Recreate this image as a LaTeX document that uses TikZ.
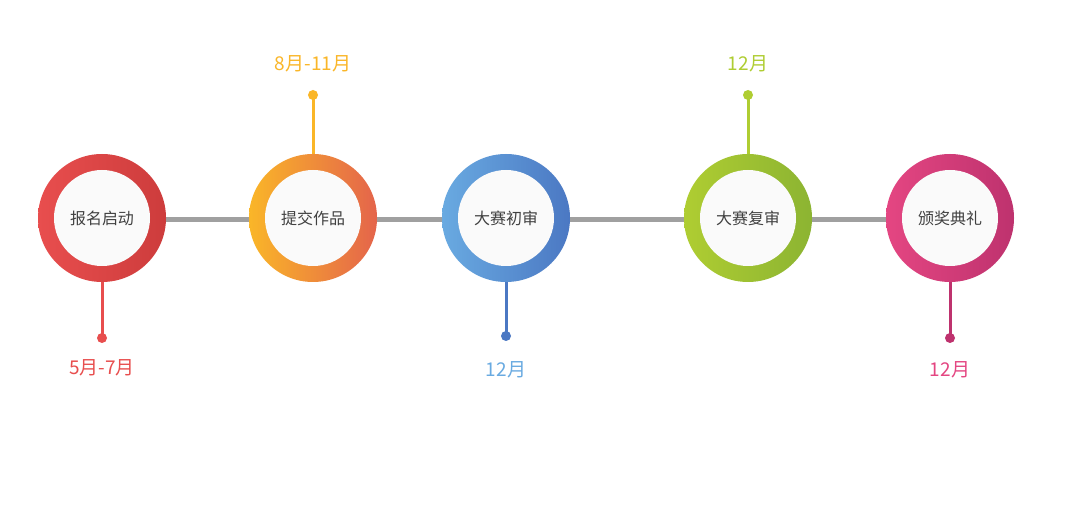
\documentclass[tikz,border=0pt]{standalone}
\usepackage{fontspec}
\setmainfont{Noto Sans CJK SC}
\usepackage{tikz}
\definecolor{cred}{RGB}{232,78,78}
\definecolor{cred2}{RGB}{205,60,60}
\definecolor{corange}{RGB}{250,182,40}
\definecolor{corange2}{RGB}{228,100,75}
\definecolor{cblue}{RGB}{105,170,225}
\definecolor{cblue2}{RGB}{75,120,195}
\definecolor{cgreen}{RGB}{175,205,50}
\definecolor{cgreen2}{RGB}{140,180,50}
\definecolor{cpink}{RGB}{228,70,130}
\definecolor{cpink2}{RGB}{190,50,110}
\definecolor{lgray}{RGB}{160,160,160}
\tikzset{
  ring/.style={circle,minimum size=128pt,inner sep=0pt},
  core/.style={circle,minimum size=96pt,inner sep=0pt,fill=white!96!gray,
    font=\fontsize{16pt}{18pt}\selectfont,text=black!75},
  tip/.style={circle,minimum size=10pt,inner sep=0pt},
  datum/.style={font=\fontsize{19pt}{21pt}\selectfont}
}
\begin{document}
\begin{tikzpicture}[x=1pt,y=-1pt]
    \useasboundingbox (0,0) rectangle (1080,505);
    \fill[white] (0,0) rectangle (1080,505);
    \draw[lgray,line width=5pt] (102,220)--(950,220);
    % stems
    \draw[cred,line width=3pt] (102,280)--(102,338);
    \node[tip,fill=cred] (d1) at (102,338) {};
    \node[datum,text=cred] at (102,368) {5月-7月};
    \draw[corange,line width=3pt] (313,160)--(313,95);
    \node[tip,fill=corange] (d2) at (313,95) {};
    \node[datum,text=corange] at (313,64) {8月-11月};
    \draw[cblue2,line width=3pt] (506,280)--(506,336);
    \node[tip,fill=cblue2] (d3) at (506,336) {};
    \node[datum,text=cblue] at (506,370) {12月};
    \draw[cgreen,line width=3pt] (748,160)--(748,95);
    \node[tip,fill=cgreen] (d4) at (748,95) {};
    \node[datum,text=cgreen] at (748,64) {12月};
    \draw[cpink2,line width=3pt] (950,280)--(950,338);
    \node[tip,fill=cpink2] (d5) at (950,338) {};
    \node[datum,text=cpink] at (950,370) {12月};
    % rings
    \node[ring,left color=cred,right color=cred2] (s1) at (102,218) {};
    \node[core] (c1) at (s1) {报名启动};
    \node[ring,left color=corange,right color=corange2] (s2) at (313,218) {};
    \node[core] (c2) at (s2) {提交作品};
    \node[ring,left color=cblue,right color=cblue2] (s3) at (506,218) {};
    \node[core] (c3) at (s3) {大赛初审};
    \node[ring,left color=cgreen,right color=cgreen2] (s4) at (748,218) {};
    \node[core] (c4) at (s4) {大赛复审};
    \node[ring,left color=cpink,right color=cpink2] (s5) at (950,218) {};
    \node[core] (c5) at (s5) {颁奖典礼};
\end{tikzpicture}
\end{document}
